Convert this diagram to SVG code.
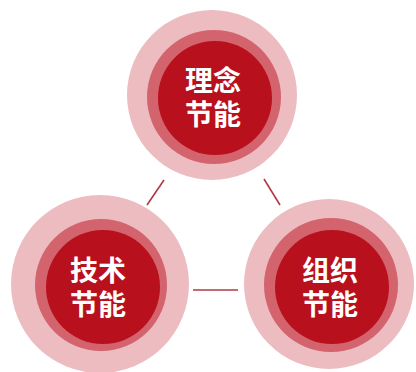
<svg xmlns="http://www.w3.org/2000/svg" width="416" height="372" viewBox="0 0 416 372">
<style>
.outer{fill:#ecbcc1}
.mid{fill:#d3636d}
.inner{fill:#b8101c}
.lbl{font-family:"Liberation Sans","Noto Sans CJK SC",sans-serif;font-size:28px;font-weight:bold;fill:#ffffff;text-anchor:middle}
.conn{stroke:#b03844;stroke-width:1.6;fill:none}
</style>
<rect width="416" height="372" fill="#ffffff"/>
<g id="connectors">
<line class="conn" x1="164" y1="180" x2="147" y2="205"/>
<line class="conn" x1="264" y1="179" x2="280" y2="205"/>
<line class="conn" x1="193" y1="290" x2="238" y2="290"/>
</g>
<g id="node-linian">
<circle class="outer" cx="212" cy="95" r="85"/>
<circle class="mid" cx="214" cy="97" r="67"/>
<circle class="inner" cx="215" cy="98" r="57"/>
<text class="lbl" x="213" y="91">理念</text>
<text class="lbl" x="213" y="125">节能</text>
</g>
<g id="node-jishu">
<circle class="outer" cx="100" cy="284" r="89"/>
<circle class="mid" cx="101" cy="285" r="66"/>
<circle class="inner" cx="103" cy="287" r="57"/>
<text class="lbl" x="98" y="281">技术</text>
<text class="lbl" x="98" y="315">节能</text>
</g>
<g id="node-zuzhi">
<circle class="outer" cx="329" cy="284" r="85"/>
<circle class="mid" cx="331" cy="285" r="67"/>
<circle class="inner" cx="332" cy="287" r="57"/>
<text class="lbl" x="330" y="281">组织</text>
<text class="lbl" x="330" y="315">节能</text>
</g>
</svg>
